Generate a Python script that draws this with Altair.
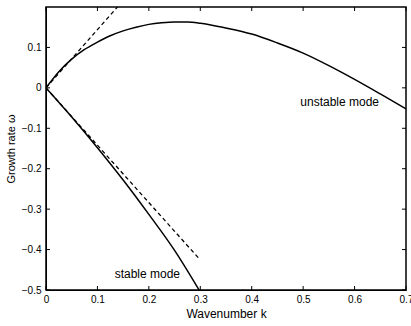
import altair as alt
import pandas as pd

# Unstable mode
k_unstable = [0, 0.025, 0.05, 0.075, 0.1, 0.125, 0.15, 0.175, 0.2, 0.225, 0.25, 0.275,
              0.3, 0.35, 0.4, 0.45, 0.5, 0.55, 0.6, 0.65, 0.7]
w_unstable = [0, 0.040, 0.071, 0.095, 0.113, 0.129, 0.141, 0.150, 0.157, 0.161, 0.163, 0.163,
              0.160, 0.148, 0.133, 0.111, 0.086, 0.055, 0.021, -0.015, -0.052]

# Stable mode
k_stable = [0, 0.05, 0.1, 0.15, 0.2, 0.25, 0.3]
w_stable = [0, -0.072, -0.148, -0.228, -0.313, -0.402, -0.505]

# Dashed asymptotes (small-k tangents)
k_dash_up = [0, 0.139]
w_dash_up = [0, 0.2]
k_dash_dn = [0, 0.296]
w_dash_dn = [0, -0.42]

# Annotations
label_text = ["unstable mode", "stable mode"]
label_k = [0.571, 0.197]
label_w = [-0.035, -0.46]

x_ticks = [0, 0.1, 0.2, 0.3, 0.4, 0.5, 0.6, 0.7]
y_ticks = [-0.5, -0.4, -0.3, -0.2, -0.1, 0, 0.1]

W, H = 360, 283
FONT = "Liberation Sans"

xs = alt.Scale(domain=[0, 0.7], nice=False, zero=False)
ys = alt.Scale(domain=[-0.5, 0.2], nice=False, zero=False)

df_u = pd.DataFrame({"k": k_unstable, "w": w_unstable})
df_s = pd.DataFrame({"k": k_stable, "w": w_stable})
df_du = pd.DataFrame({"k": k_dash_up, "w": w_dash_up})
df_dd = pd.DataFrame({"k": k_dash_dn, "w": w_dash_dn})
df_lab = pd.DataFrame({"t": label_text, "k": label_k, "w": label_w})
df_xt = pd.DataFrame({"k": x_ticks})
df_yt = pd.DataFrame({"w": y_ticks})

xaxis = alt.Axis(values=x_ticks, format=".1~f", title="Wavenumber k", ticks=False,
                 grid=False, domainColor="black", labelColor="black", labelFont=FONT,
                 labelFontSize=10, titleFont=FONT, titleFontSize=12, titleFontWeight="normal",
                 titleColor="black", labelPadding=4, titlePadding=4, labelFlush=False)
yaxis = alt.Axis(values=y_ticks, format=".1~f", title="Growth rate ω", ticks=False,
                 grid=False, domainColor="black", labelColor="black", labelFont=FONT,
                 labelFontSize=10, titleFont=FONT, titleFontSize=11, titleFontWeight="normal",
                 titleColor="black", labelPadding=5, titlePadding=5, labelFlush=False)

X = alt.X("k:Q", scale=xs, axis=xaxis)
Y = alt.Y("w:Q", scale=ys, axis=yaxis)

base_u = alt.Chart(df_u).mark_line(color="black", strokeWidth=1.5, clip=True,
                                   interpolate="monotone").encode(x=X, y=Y)
line_s = alt.Chart(df_s).mark_line(color="black", strokeWidth=1.5, clip=True,
                                   interpolate="monotone").encode(x=X, y=Y)
dash_u = alt.Chart(df_du).mark_line(color="black", strokeWidth=1.3, strokeDash=[4, 3],
                                    clip=True).encode(x=X, y=Y)
dash_d = alt.Chart(df_dd).mark_line(color="black", strokeWidth=1.3, strokeDash=[4, 3],
                                    clip=True).encode(x=X, y=Y)
labels = alt.Chart(df_lab).mark_text(font=FONT, fontSize=12, color="black", align="center",
                                     baseline="middle").encode(x=X, y=Y, text="t:N")

tick_len = 4
xt_bottom = alt.Chart(df_xt).mark_rule(color="black", strokeWidth=1).encode(
    x=X, y=alt.value(H), y2=alt.value(H - tick_len))
xt_top = alt.Chart(df_xt).mark_rule(color="black", strokeWidth=1).encode(
    x=X, y=alt.value(0), y2=alt.value(tick_len))
yt_left = alt.Chart(df_yt).mark_rule(color="black", strokeWidth=1).encode(
    y=Y, x=alt.value(0), x2=alt.value(tick_len))
yt_right = alt.Chart(df_yt).mark_rule(color="black", strokeWidth=1).encode(
    y=Y, x=alt.value(W), x2=alt.value(W - tick_len))

chart = alt.layer(base_u, line_s, dash_u, dash_d, labels,
                  xt_bottom, xt_top, yt_left, yt_right).properties(
    width=W, height=H,
    autosize=alt.AutoSizeParams(type="none"),
    padding={"left": 46, "top": 7, "right": 5, "bottom": 36},
    background="white",
).configure_view(stroke="black", strokeWidth=1.5)

chart.save("out.html", embed_options={"renderer": "svg", "actions": False})
